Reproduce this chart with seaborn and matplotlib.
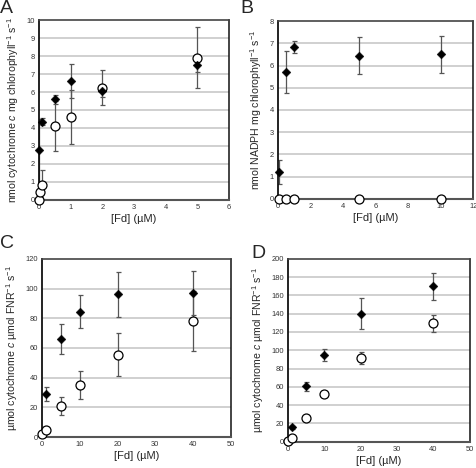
import matplotlib
matplotlib.use("Agg")
import matplotlib.pyplot as plt
import seaborn as sns
import numpy as np
import pandas as pd

sns.set_theme(style="white")
plt.rcParams['font.family'] = ['Liberation Sans', 'DejaVu Sans']
plt.rcParams['mathtext.fontset'] = 'custom'
plt.rcParams['mathtext.it'] = 'Liberation Sans:italic'
plt.rcParams['mathtext.rm'] = 'Liberation Sans'

# ---- Panel A ----
A_x_filled = [0.01, 0.1, 0.5, 1, 2, 5]
A_y_filled = [2.75, 4.35, 5.6, 6.6, 6.05, 7.5]
A_e_filled = [1.75, 0.2, 0.25, 0.95, 0.3, 0.4]
A_x_open = [0, 0.02, 0.1, 0.5, 1, 2, 5]
A_y_open = [0, 0.45, 0.85, 4.1, 4.6, 6.25, 7.9]
A_e_open = [0, 0.3, 0.8, 1.4, 1.5, 1.0, 1.7]

# ---- Panel B ----
B_x_filled = [0.05, 0.5, 1, 5, 10]
B_y_filled = [1.2, 5.7, 6.85, 6.45, 6.5]
B_e_filled = [0.55, 0.95, 0.27, 0.85, 0.83]
B_x_open = [0.05, 0.5, 1, 5, 10]
B_y_open = [0, 0, 0, 0, 0]
B_e_open = [0, 0, 0, 0, 0]

# ---- Panel C ----
C_x_filled = [1, 5, 10, 20, 40]
C_y_filled = [29, 66, 84.5, 96, 97]
C_e_filled = [5, 10, 11, 15, 14.5]
C_x_open = [0, 1, 5, 10, 20, 40]
C_y_open = [2, 5, 21, 35, 55.5, 78]
C_e_open = [0, 0, 5.8, 9.5, 14.5, 20]

# ---- Panel D ----
D_x_filled = [1, 5, 10, 20, 40]
D_y_filled = [16, 60.5, 95, 140, 170]
D_e_filled = [1.5, 5, 6.5, 17, 15]
D_x_open = [0, 1, 5, 10, 20, 40]
D_y_open = [1, 4, 26.5, 52, 91.5, 129.5]
D_e_open = [0, 0, 1.5, 3, 6.5, 9.5]

panels = [
    dict(letter="A", xf=A_x_filled, yf=A_y_filled, ef=A_e_filled,
         xo=A_x_open, yo=A_y_open, eo=A_e_open,
         xlim=(0, 6), xticks=np.arange(0, 7, 1), ylim=(0, 10), yticks=np.arange(0, 11, 1),
         ylabel=r"nmol cytochrome $c$ mg chlorophyll$^{-1}$ s$^{-1}$",
         rect=[0.082, 0.573, 0.398, 0.384], lpos=(0.0, 1.0)),
    dict(letter="B", xf=B_x_filled, yf=B_y_filled, ef=B_e_filled,
         xo=B_x_open, yo=B_y_open, eo=B_e_open,
         xlim=(0, 12), xticks=np.arange(0, 13, 2), ylim=(0, 8), yticks=np.arange(0, 9, 1),
         ylabel=r"nmol NADPH mg chlorophyll$^{-1}$ s$^{-1}$",
         rect=[0.583, 0.575, 0.409, 0.380], lpos=(0.503, 1.0)),
    dict(letter="C", xf=C_x_filled, yf=C_y_filled, ef=C_e_filled,
         xo=C_x_open, yo=C_y_open, eo=C_e_open,
         xlim=(0, 50), xticks=np.arange(0, 51, 10), ylim=(0, 120), yticks=np.arange(0, 121, 20),
         ylabel=r"µmol cytochrome $c$ µmol FNR$^{-1}$ s$^{-1}$",
         rect=[0.088, 0.066, 0.396, 0.381], lpos=(0.0, 0.497)),
    dict(letter="D", xf=D_x_filled, yf=D_y_filled, ef=D_e_filled,
         xo=D_x_open, yo=D_y_open, eo=D_e_open,
         xlim=(0, 50), xticks=np.arange(0, 51, 10), ylim=(0, 200), yticks=np.arange(0, 201, 20),
         ylabel=r"µmol cytochrome $c$ µmol FNR$^{-1}$ s$^{-1}$",
         rect=[0.604, 0.056, 0.381, 0.391], lpos=(0.528, 0.477)),
]

fig = plt.figure(figsize=(4.77, 4.68), dpi=100)

for p in panels:
    ax = fig.add_axes(p["rect"])
    # error bars
    ax.errorbar(p["xo"], p["yo"], yerr=p["eo"], fmt="none", ecolor="#555555",
                elinewidth=0.9, capsize=1.8, capthick=0.9, zorder=2)
    ax.errorbar(p["xf"], p["yf"], yerr=p["ef"], fmt="none", ecolor="#555555",
                elinewidth=0.9, capsize=1.8, capthick=0.9, zorder=2)
    dfo = pd.DataFrame({"x": p["xo"], "y": p["yo"]})
    dff = pd.DataFrame({"x": p["xf"], "y": p["yf"]})
    sns.scatterplot(data=dfo, x="x", y="y", ax=ax, marker="o", s=42,
                    facecolor="white", edgecolor="black", linewidth=0.9,
                    zorder=4, clip_on=False)
    sns.scatterplot(data=dff, x="x", y="y", ax=ax, marker="D", s=20,
                    color="black", edgecolor="black", linewidth=0.3,
                    zorder=5, clip_on=False)
    ax.set_xlim(*p["xlim"])
    ax.set_ylim(*p["ylim"])
    ax.set_xticks(p["xticks"])
    ax.set_yticks(p["yticks"])
    ax.set_axisbelow(True)
    ax.grid(False)
    for yv in p["yticks"][1:-1]:
        ax.axhline(yv, color="#c4c4c4", linewidth=1.1, zorder=0.5)
    ax.set_xlabel("[Fd] (µM)", fontsize=8, labelpad=2)
    ax.set_ylabel(p["ylabel"], fontsize=7.6, labelpad=4)
    ax.tick_params(axis="both", labelsize=5.4, length=2, width=0.6,
                   direction="in", pad=3, colors="#333333")
    ax.tick_params(axis="y", length=0)
    for side, col, lw in [("top", "#444444", 1.2), ("right", "#111111", 1.1),
                          ("left", "#111111", 1.3), ("bottom", "#555555", 1.5)]:
        ax.spines[side].set_visible(True)
        ax.spines[side].set_color(col)
        ax.spines[side].set_linewidth(lw)
    fig.text(p["lpos"][0], p["lpos"][1], p["letter"], fontsize=14,
             ha="left", va="top")

fig.savefig("out.png", dpi=100)
